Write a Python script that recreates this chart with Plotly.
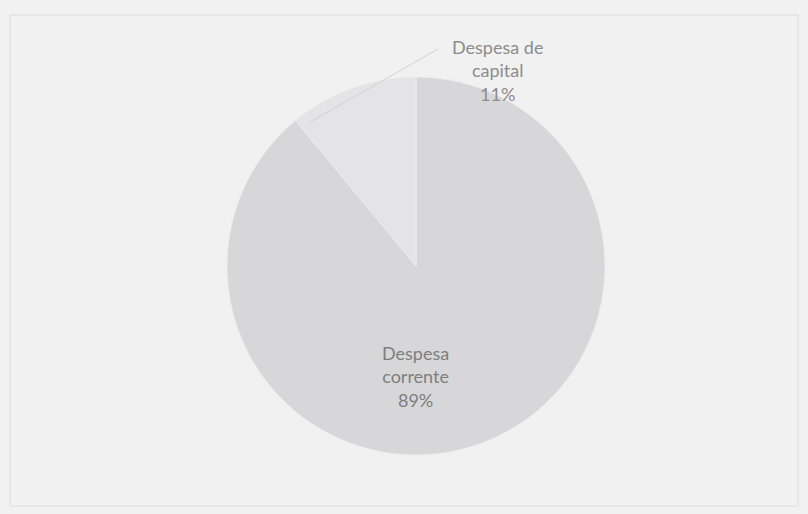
import plotly.graph_objects as go

categories = ["Despesa corrente", "Despesa de capital"]
values = [89, 11]
label_lines = [["Despesa", "corrente"], ["Despesa de", "capital"]]
slice_colors = ["#d7d7d9", "#e4e4e6"]

W, H = 808, 514

fig = go.Figure()
fig.add_trace(go.Pie(
    labels=categories,
    values=values,
    sort=False,
    direction="clockwise",
    rotation=0,
    textinfo="none",
    hoverinfo="label+percent",
    marker=dict(colors=slice_colors, line=dict(color="#ececec", width=1)),
    domain=dict(x=[(416 - 189) / W, (416 + 189) / W], y=[1 - 455 / H, 1 - 77 / H]),
    showlegend=False,
))

def lbl(i):
    pct = round(100 * values[i] / sum(values))
    return "<br>".join(label_lines[i] + [f"{pct}%"])

font = dict(family="Lato, 'Open Sans', sans-serif", size=18, color="#7e7e7e")
fig.add_annotation(x=415 / W, y=1 - 376 / H, xref="paper", yref="paper",
                   xanchor="center", yanchor="middle",
                   text=lbl(0), showarrow=False, font=font, align="center")
fig.add_annotation(x=497 / W, y=1 - 71 / H, xref="paper", yref="paper",
                   xanchor="center", yanchor="middle",
                   text=lbl(1), showarrow=False, font=dict(font, color="#8c8c8c"), align="center")
# leader line
fig.add_shape(type="line", xref="paper", yref="paper",
              x0=438 / W, y0=1 - 49 / H, x1=310 / W, y1=1 - 122 / H,
              line=dict(color="#d2d2d2", width=1))
# frame
fig.add_shape(type="rect", xref="paper", yref="paper",
              x0=10 / W, y0=1 - 506 / H, x1=798 / W, y1=1 - 15 / H,
              line=dict(color="#dcdcdc", width=1), fillcolor="rgba(0,0,0,0)", layer="below")

fig.update_layout(
    width=W, height=H,
    margin=dict(l=0, r=0, t=0, b=0),
    paper_bgcolor="#f1f1f1",
    plot_bgcolor="#f1f1f1",
)
fig.write_html("out.html")
